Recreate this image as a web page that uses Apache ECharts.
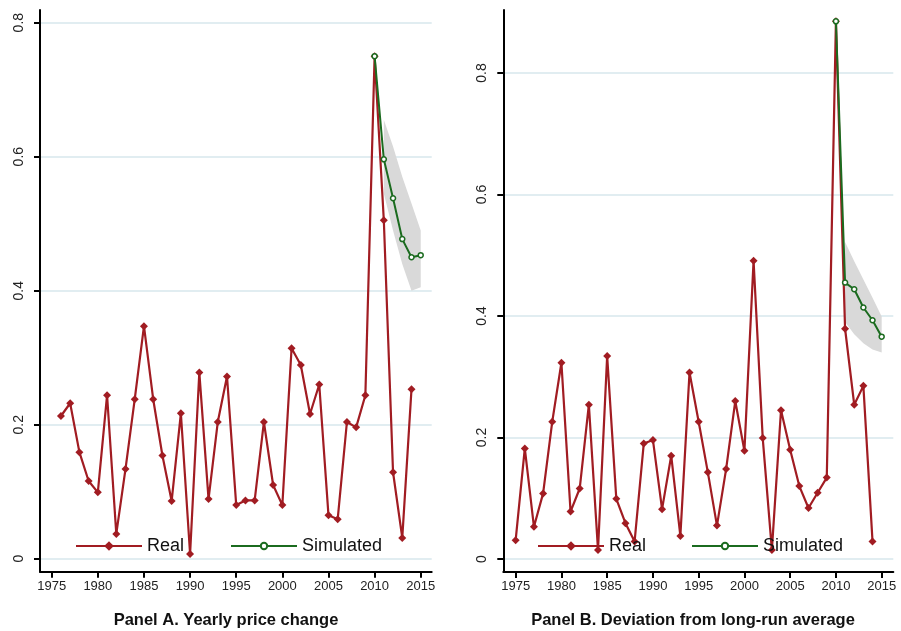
<!DOCTYPE html>
<html><head><meta charset="utf-8">
<script src="https://cdn.jsdelivr.net/npm/echarts@6/dist/echarts.min.js"></script>
<style>html,body{margin:0;padding:0;background:#fff}#c{width:901px;height:631px}</style>
</head><body><div id="c"></div><script>
// ---- data ----
const yearsA = [1976,1977,1978,1979,1980,1981,1982,1983,1984,1985,1986,1987,1988,1989,1990,1991,1992,1993,1994,1995,1996,1997,1998,1999,2000,2001,2002,2003,2004,2005,2006,2007,2008,2009,2010,2011,2012,2013,2014];
const realA = [0.213,0.232,0.159,0.116,0.099,0.244,0.037,0.134,0.238,0.347,0.238,0.154,0.086,0.217,0.007,0.278,0.089,0.204,0.272,0.080,0.087,0.087,0.204,0.110,0.080,0.314,0.289,0.216,0.260,0.065,0.059,0.204,0.196,0.244,0.750,0.505,0.129,0.031,0.253];
const simYears = [2010,2011,2012,2013,2014,2015];
const simA = [0.750,0.596,0.538,0.477,0.450,0.453];
const bandYears = [2011,2012,2013,2014,2015];
const bandLowA = [0.545,0.490,0.440,0.400,0.405];
const bandHighA = [0.655,0.615,0.570,0.530,0.490];

const yearsB = [1975,1976,1977,1978,1979,1980,1981,1982,1983,1984,1985,1986,1987,1988,1989,1990,1991,1992,1993,1994,1995,1996,1997,1998,1999,2000,2001,2002,2003,2004,2005,2006,2007,2008,2009,2010,2011,2012,2013,2014];
const realB = [0.031,0.182,0.053,0.108,0.226,0.323,0.078,0.116,0.254,0.015,0.334,0.099,0.059,0.029,0.190,0.196,0.082,0.170,0.038,0.307,0.226,0.143,0.055,0.148,0.260,0.178,0.491,0.199,0.015,0.245,0.180,0.120,0.084,0.109,0.134,0.885,0.379,0.254,0.285,0.029];
const simB = [0.885,0.455,0.444,0.414,0.393,0.366];
const bandLowB = [0.390,0.370,0.355,0.345,0.340];
const bandHighB = [0.522,0.490,0.460,0.430,0.399];

const xTicks = [1975,1980,1985,1990,1995,2000,2005,2010,2015];
const yTicks = [0,0.2,0.4,0.6,0.8];
const titleA = 'Panel A. Yearly price change';
const titleB = 'Panel B. Deviation from long-run average';
// ---- style ----
const FONT = 'Liberation Sans, Arial, sans-serif';
const RED = '#a11c22', GREEN = '#1b6b1f', GRID = '#d7e7ed', BAND = '#d9d9d9';
const zip = (xs, ys) => xs.map((x, i) => [x, ys[i]]);

function xAxis(gi, min, max) {
  return {
    type: 'value', gridIndex: gi, min, max,
    axisLine: {show: true, onZero: false, lineStyle: {color: '#000', width: 2}},
    axisTick: {show: true, length: 6, customValues: xTicks, lineStyle: {color: '#000', width: 2}},
    axisLabel: {customValues: xTicks, fontSize: 13, color: '#222', fontFamily: FONT, margin: 8, formatter: v => String(v)},
    splitLine: {show: false}
  };
}
function yAxis(gi, min, max) {
  return {
    type: 'value', gridIndex: gi, min, max,
    axisLine: {show: true, onZero: false, lineStyle: {color: '#000', width: 2}},
    axisTick: {show: true, length: 6, customValues: yTicks, lineStyle: {color: '#000', width: 2}},
    axisLabel: {customValues: yTicks, rotate: 90, fontSize: 14, color: '#222', fontFamily: FONT, margin: 14,
      formatter: v => (v === 0 ? '0' : v.toFixed(1))},
    splitLine: {show: true, lineStyle: {color: GRID, width: 1.5}}
  };
}
function panelSeries(gi, years, real, sim, lo, hi) {
  return [
    {type: 'custom', xAxisIndex: gi, yAxisIndex: gi, silent: true, z: 1,
     data: bandYears.map((y, i) => [y, lo[i], hi[i]]),
     renderItem: (params, api) => {
       if (params.dataIndex !== 0) return null;
       const upper = bandYears.map((y, i) => api.coord([y, hi[i]]));
       const lower = bandYears.map((y, i) => api.coord([y, lo[i]])).reverse();
       return {type: 'polygon', shape: {points: upper.concat(lower)}, style: {fill: BAND}};
     }},
    {name: 'Real', type: 'line', xAxisIndex: gi, yAxisIndex: gi, data: zip(years, real),
     symbol: 'diamond', symbolSize: 8, itemStyle: {color: RED}, lineStyle: {color: RED, width: 2.2}, z: 3},
    {name: 'Simulated', type: 'line', xAxisIndex: gi, yAxisIndex: gi, data: zip(simYears, sim),
     symbol: 'circle', symbolSize: 5, itemStyle: {color: '#fff', borderColor: GREEN, borderWidth: 1.5},
     lineStyle: {color: GREEN, width: 2}, z: 4}
  ];
}
function leg(name, left, h) {
  return {data: [name], left, top: 546 - 11, padding: 0, itemWidth: 66, itemHeight: h, selectedMode: false,
    textStyle: {fontSize: 18, color: '#111', fontFamily: FONT, lineHeight: 22}};
}
const chart = echarts.init(document.getElementById('c'));
chart.setOption({
  animation: false,
  backgroundColor: '#fff',
  grid: [
    {left: 40, top: 10, width: 391.7, height: 561.7},
    {left: 503.3, top: 10, width: 390, height: 562}
  ],
  xAxis: [xAxis(0, 1973.73, 2016.19), xAxis(1, 1973.65, 2016.27)],
  yAxis: [yAxis(0, -0.0194, 0.8189), yAxis(1, -0.0214, 0.9037)],
  legend: [leg('Real', 75, 12), leg('Simulated', 230, 8), leg('Real', 537, 12), leg('Simulated', 691, 8)],
  series: [...panelSeries(0, yearsA, realA, simA, bandLowA, bandHighA),
           ...panelSeries(1, yearsB, realB, simB, bandLowB, bandHighB)],
  graphic: [
    {type: 'text', x: 226, y: 620, style: {text: titleA, font: 'bold 16.5px ' + FONT, fill: '#111', textAlign: 'center', textVerticalAlign: 'middle'}},
    {type: 'text', x: 693, y: 620, style: {text: titleB, font: 'bold 16.5px ' + FONT, fill: '#111', textAlign: 'center', textVerticalAlign: 'middle'}}
  ]
});
</script></body></html>
